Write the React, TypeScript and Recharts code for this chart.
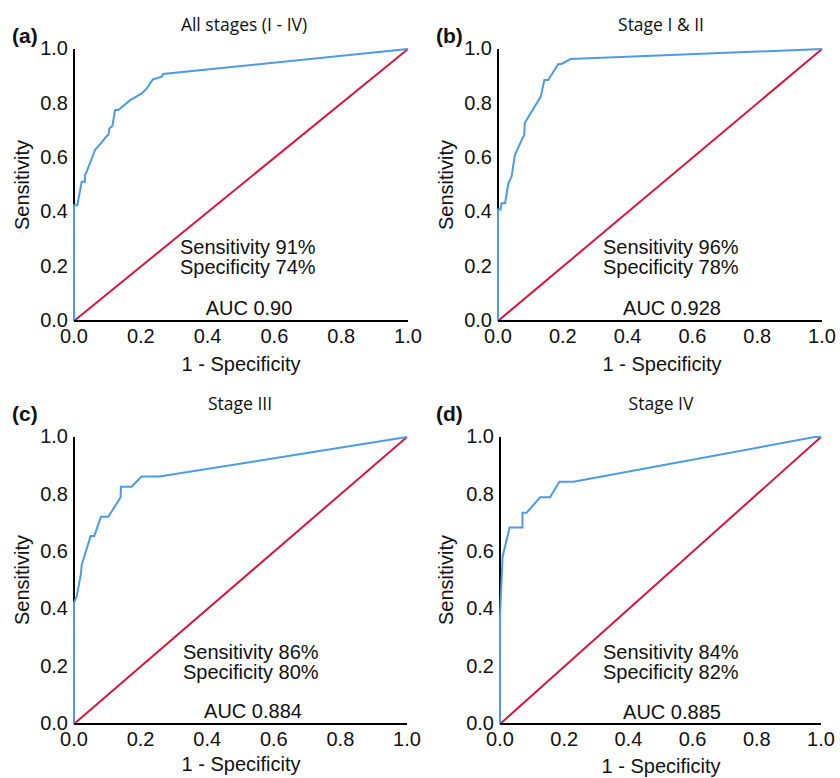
import { LineChart, Line, XAxis, YAxis } from "recharts";

// axis ticks shared by all four panels
const axisTicks = [0, 0.2, 0.4, 0.6, 0.8, 1.0];

// chance line
const chanceFpr = [0, 1];
const chanceTpr = [0, 1];

// left axis spine (drawn as a series so the ROC curve sits on top of it)
const spineFpr = [0, 0];
const spineTpr = [0, 1];

// (a) all stages
const allFpr = [0, 0, 0.01, 0.023, 0.033, 0.033, 0.038, 0.063, 0.076, 0.098, 0.103, 0.106, 0.115, 0.123, 0.133, 0.168, 0.203, 0.218, 0.236, 0.263, 0.267, 1];
const allTpr = [0, 0.426, 0.426, 0.512, 0.512, 0.537, 0.549, 0.629, 0.647, 0.68, 0.684, 0.708, 0.717, 0.776, 0.776, 0.812, 0.837, 0.855, 0.888, 0.898, 0.908, 1];

// (b) stage I & II
const earlyFpr = [0, 0, 0.008, 0.011, 0.022, 0.032, 0.042, 0.052, 0.073, 0.081, 0.083, 0.132, 0.143, 0.155, 0.186, 0.196, 0.224, 1];
const earlyTpr = [0, 0.41, 0.41, 0.433, 0.433, 0.506, 0.531, 0.61, 0.665, 0.684, 0.729, 0.825, 0.886, 0.886, 0.945, 0.945, 0.963, 1];

// (c) stage III
const stage3Fpr = [0, 0, 0.008, 0.021, 0.023, 0.05, 0.061, 0.081, 0.103, 0.14, 0.141, 0.173, 0.203, 0.256, 1];
const stage3Tpr = [0, 0.423, 0.444, 0.525, 0.554, 0.655, 0.655, 0.722, 0.722, 0.79, 0.827, 0.827, 0.862, 0.862, 1];

// (d) stage IV
const stage4Fpr = [0, 0, 0.008, 0.03, 0.07, 0.07, 0.083, 0.125, 0.156, 0.185, 0.229, 0.98, 1];
const stage4Tpr = [0, 0.374, 0.583, 0.685, 0.685, 0.736, 0.736, 0.79, 0.79, 0.844, 0.844, 1, 1];

const toPoints = (xs: number[], ys: number[]) => xs.map((x, i) => ({ x, y: ys[i] }));

const BLUE = "#4b9be6";
const RED = "#d5173d";
const SANS = "'Liberation Sans', Arial, sans-serif";
const TITLE_FONT = "'Open Sans', sans-serif";
const FS = 20;

const Txt = ({ x, y, children, size = FS, align = "left", bold = false, font = SANS, rotate = false }: any) => (
    <div
        style={{
            position: "absolute",
            left: x,
            top: y,
            transform: `translate(${align === "center" ? "-50%" : "0"}, -50%)${rotate ? " rotate(-90deg)" : ""}`,
            fontFamily: font,
            fontSize: size,
            fontWeight: bold ? 700 : 400,
            lineHeight: 1,
            whiteSpace: "nowrap",
            color: "#111",
        }}
    >
        {children}
    </div>
);

const LEFT = 74;
const TOP = 49;
const RIGHT = 16;
const BOTTOM = 60;

const RocPanel = ({ px, py, w, h, fpr, tpr }: any) => (
    <div style={{ position: "absolute", left: px - LEFT, top: py - TOP }}>
        <LineChart
            width={LEFT + w + RIGHT}
            height={TOP + h + BOTTOM}
            margin={{ top: TOP, right: RIGHT, left: 0, bottom: 0 }}
        >
            <XAxis
                type="number"
                dataKey="x"
                domain={[0, 1]}
                ticks={axisTicks}
                tickFormatter={(v: number) => v.toFixed(1)}
                height={BOTTOM}
                tickLine={false}
                tickSize={0}
                tickMargin={8}
                axisLine={{ stroke: "#000", strokeWidth: 2 }}
                tick={{ fill: "#111", fontSize: FS, fontFamily: SANS }}
                allowDuplicatedCategory={false}
            />
            <YAxis
                type="number"
                domain={[0, 1]}
                ticks={axisTicks}
                tickFormatter={(v: number) => v.toFixed(1)}
                width={LEFT}
                tickLine={false}
                tickSize={0}
                tickMargin={6}
                axisLine={false}
                tick={{ fill: "#111", fontSize: FS, fontFamily: SANS, dy: -1 }}
            />
            <Line
                data={toPoints(spineFpr, spineTpr)}
                dataKey="y"
                type="linear"
                stroke="#000"
                strokeWidth={2}
                dot={false}
                isAnimationActive={false}
            />
            <Line
                data={toPoints(chanceFpr, chanceTpr)}
                dataKey="y"
                type="linear"
                stroke={RED}
                strokeWidth={2}
                dot={false}
                isAnimationActive={false}
            />
            <Line
                data={toPoints(fpr, tpr)}
                dataKey="y"
                type="linear"
                stroke={BLUE}
                strokeWidth={2}
                dot={false}
                isAnimationActive={false}
            />
        </LineChart>
    </div>
);

export default function App() {
    return (
        <div style={{ position: "absolute", left: 0, top: 0, width: 840, height: 778, background: "#fff", overflow: "hidden" }}>
            <RocPanel px={74} py={49} w={334} h={272} fpr={allFpr} tpr={allTpr} />
            <RocPanel px={498} py={49} w={324} h={272} fpr={earlyFpr} tpr={earlyTpr} />
            <RocPanel px={74} py={437} w={333} h={287} fpr={stage3Fpr} tpr={stage3Tpr} />
            <RocPanel px={500} py={437} w={321} h={287} fpr={stage4Fpr} tpr={stage4Tpr} />

            {/* panel letters and titles */}
            <Txt x={12} y={35} bold size={21}>(a)</Txt>
            <Txt x={436} y={35} bold size={21}>(b)</Txt>
            <Txt x={12} y={413} bold size={21}>(c)</Txt>
            <Txt x={436} y={413} bold size={21}>(d)</Txt>
            <Txt x={244} y={25} align="center" size={17.5} font={TITLE_FONT}>All stages (I - IV)</Txt>
            <Txt x={661} y={25} align="center" size={17.5} font={TITLE_FONT}>Stage I &amp; II</Txt>
            <Txt x={240} y={404} align="center" size={17.5} font={TITLE_FONT}>Stage III</Txt>
            <Txt x={661} y={404} align="center" size={17.5} font={TITLE_FONT}>Stage IV</Txt>

            {/* axis titles */}
            <Txt x={22} y={185} align="center" rotate>Sensitivity</Txt>
            <Txt x={446} y={185} align="center" rotate>Sensitivity</Txt>
            <Txt x={22} y={580} align="center" rotate>Sensitivity</Txt>
            <Txt x={446} y={580} align="center" rotate>Sensitivity</Txt>
            <Txt x={241} y={364} align="center">1 - Specificity</Txt>
            <Txt x={662} y={364} align="center">1 - Specificity</Txt>
            <Txt x={241} y={764} align="center">1 - Specificity</Txt>
            <Txt x={661} y={766} align="center">1 - Specificity</Txt>

            {/* summary stats */}
            <Txt x={180} y={247}>Sensitivity 91%</Txt>
            <Txt x={180} y={267}>Specificity 74%</Txt>
            <Txt x={249} y={308} align="center">AUC 0.90</Txt>
            <Txt x={603} y={247}>Sensitivity 96%</Txt>
            <Txt x={603} y={267}>Specificity 78%</Txt>
            <Txt x={672} y={308} align="center">AUC 0.928</Txt>
            <Txt x={183} y={652}>Sensitivity 86%</Txt>
            <Txt x={183} y={672}>Specificity 80%</Txt>
            <Txt x={253} y={711} align="center">AUC 0.884</Txt>
            <Txt x={603} y={652}>Sensitivity 84%</Txt>
            <Txt x={603} y={672}>Specificity 82%</Txt>
            <Txt x={672} y={712} align="center">AUC 0.885</Txt>
        </div>
    );
}
